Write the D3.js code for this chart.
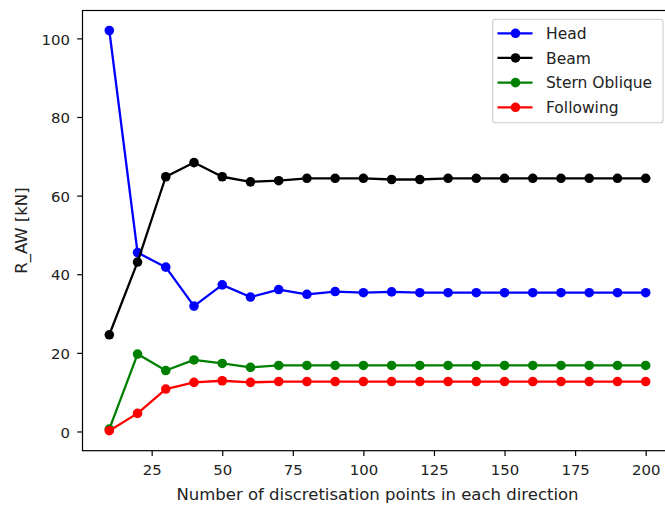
<!DOCTYPE html>
<html>
<head>
<meta charset="utf-8">
<script src="https://cdn.jsdelivr.net/npm/d3@7"></script>
<style>
  html, body { margin: 0; padding: 0; background: #fff; }
  svg { display: block; font-family: "DejaVu Sans", sans-serif; }
</style>
</head>
<body>
<svg id="chart" width="665" height="507"></svg>
<script>
// Grid resolution (points per direction)
const points = [10, 20, 30, 40, 50, 60, 70, 80, 90, 100, 110, 120, 130, 140, 150, 160, 170, 180, 190, 200];

// Added resistance R_AW [kN] per heading
const head         = [102.0, 45.5, 41.8, 31.9, 37.3, 34.2, 36.1, 34.9, 35.6, 35.3, 35.5, 35.3, 35.3, 35.3, 35.3, 35.3, 35.3, 35.3, 35.3, 35.3];
const beam         = [24.6, 43.1, 64.8, 68.4, 64.8, 63.5, 63.8, 64.4, 64.4, 64.4, 64.1, 64.1, 64.4, 64.4, 64.4, 64.4, 64.4, 64.4, 64.4, 64.4];
const sternOblique = [0.6, 19.7, 15.5, 18.2, 17.3, 16.3, 16.8, 16.8, 16.8, 16.8, 16.8, 16.8, 16.8, 16.8, 16.8, 16.8, 16.8, 16.8, 16.8, 16.8];
const following    = [0.2, 4.6, 10.8, 12.5, 12.9, 12.5, 12.7, 12.7, 12.7, 12.7, 12.7, 12.7, 12.7, 12.7, 12.7, 12.7, 12.7, 12.7, 12.7, 12.7];

const seriesNames  = ["Head", "Beam", "Stern Oblique", "Following"];
const seriesColors = ["#0000ff", "#000000", "#008000", "#ff0000"];

const xTicks = [25, 50, 75, 100, 125, 150, 175, 200];
const yTicks = [0, 20, 40, 60, 80, 100];

const xLabel = "Number of discretisation points in each direction";
const yLabel = "R_AW [kN]";

const series = [head, beam, sternOblique, following].map((vals, i) => ({
  name: seriesNames[i],
  color: seriesColors[i],
  values: vals.map((v, j) => ({ x: points[j], y: v }))
}));

const svg = d3.select("#chart");
const margin = { left: 82.5, top: 10.5, right: 672.5, bottom: 450.7 };
const tickFont = 14.9;
const labelFont = 16.5;
const legendFont = 15.5;
const lineW = 2.3, markerR = 4.8;

// matplotlib-style 5% padding on both axes
const xPad = (d3.max(points) - d3.min(points)) * 0.05;
const allY = [].concat(head, beam, sternOblique, following);
const yPad = (d3.max(allY) - d3.min(allY)) * 0.05;

const x = d3.scaleLinear()
  .domain([d3.min(points) - xPad, d3.max(points) + xPad])
  .range([margin.left, margin.right]);
const y = d3.scaleLinear()
  .domain([d3.min(allY) - yPad, d3.max(allY) + yPad])
  .range([margin.bottom, margin.top]);

// Clip for data
svg.append("defs").append("clipPath").attr("id", "plotClip")
  .append("rect")
  .attr("x", margin.left).attr("y", margin.top)
  .attr("width", margin.right - margin.left)
  .attr("height", margin.bottom - margin.top);

// Lines + markers
const line = d3.line().x(d => x(d.x)).y(d => y(d.y));
const plot = svg.append("g").attr("clip-path", "url(#plotClip)");
series.forEach(s => {
  const g = plot.append("g");
  g.append("path")
    .datum(s.values)
    .attr("d", line)
    .attr("fill", "none")
    .attr("stroke", s.color)
    .attr("stroke-width", lineW)
    .attr("stroke-linejoin", "round");
  g.selectAll("circle")
    .data(s.values)
    .join("circle")
    .attr("cx", d => x(d.x))
    .attr("cy", d => y(d.y))
    .attr("r", markerR)
    .attr("fill", s.color);
});

// Axes
const tickLen = 5.3;
const xAxis = d3.axisBottom(x).tickValues(xTicks).tickSize(tickLen).tickPadding(5.3).tickSizeOuter(0);
const yAxis = d3.axisLeft(y).tickValues(yTicks).tickSize(tickLen).tickPadding(7.2).tickSizeOuter(0);

const gx = svg.append("g")
  .attr("transform", `translate(0,${margin.bottom})`)
  .call(xAxis);
const gy = svg.append("g")
  .attr("transform", `translate(${margin.left},0)`)
  .call(yAxis);

[gx, gy].forEach(g => {
  g.select(".domain").remove();
  g.selectAll(".tick line").attr("stroke", "#000").attr("stroke-width", 1.2);
  g.selectAll(".tick text")
    .attr("fill", "#222")
    .style("font-size", tickFont + "px")
    .style("font-family", "DejaVu Sans");
});
gx.selectAll(".tick text").attr("dy", "0.92em");
gy.selectAll(".tick text").attr("dy", "0.38em");

// Frame (spines)
svg.append("rect")
  .attr("x", margin.left).attr("y", margin.top)
  .attr("width", margin.right - margin.left)
  .attr("height", margin.bottom - margin.top)
  .attr("fill", "none")
  .attr("stroke", "#000")
  .attr("stroke-width", 1.2);

// Axis labels
svg.append("text")
  .attr("x", (margin.left + margin.right) / 2)
  .attr("y", 500)
  .attr("text-anchor", "middle")
  .attr("fill", "#222")
  .style("font-size", labelFont + "px")
  .text(xLabel);

svg.append("text")
  .attr("transform", `translate(27,${(margin.top + margin.bottom) / 2}) rotate(-90)`)
  .attr("text-anchor", "middle")
  .attr("fill", "#222")
  .style("font-size", labelFont + "px")
  .text(yLabel);

// Legend
const legend = svg.append("g");
legend.append("rect")
  .attr("x", 492.7).attr("y", 19.3)
  .attr("width", 170.3).attr("height", 103.4)
  .attr("rx", 2.8)
  .attr("fill", "#fff").attr("fill-opacity", 0.8)
  .attr("stroke", "#cccccc").attr("stroke-width", 1.1);

const rowY = d3.scaleLinear().domain([0, 3]).range([33.3, 107.3]);
series.forEach((s, i) => {
  const cy = rowY(i);
  legend.append("line")
    .attr("x1", 497.5).attr("x2", 532.5)
    .attr("y1", cy).attr("y2", cy)
    .attr("stroke", s.color).attr("stroke-width", lineW);
  legend.append("circle")
    .attr("cx", 515.5).attr("cy", cy).attr("r", markerR)
    .attr("fill", s.color);
  legend.append("text")
    .attr("x", 546).attr("y", cy)
    .attr("dy", "0.36em")
    .attr("fill", "#222")
    .style("font-size", legendFont + "px")
    .text(s.name);
});
</script>
</body>
</html>
